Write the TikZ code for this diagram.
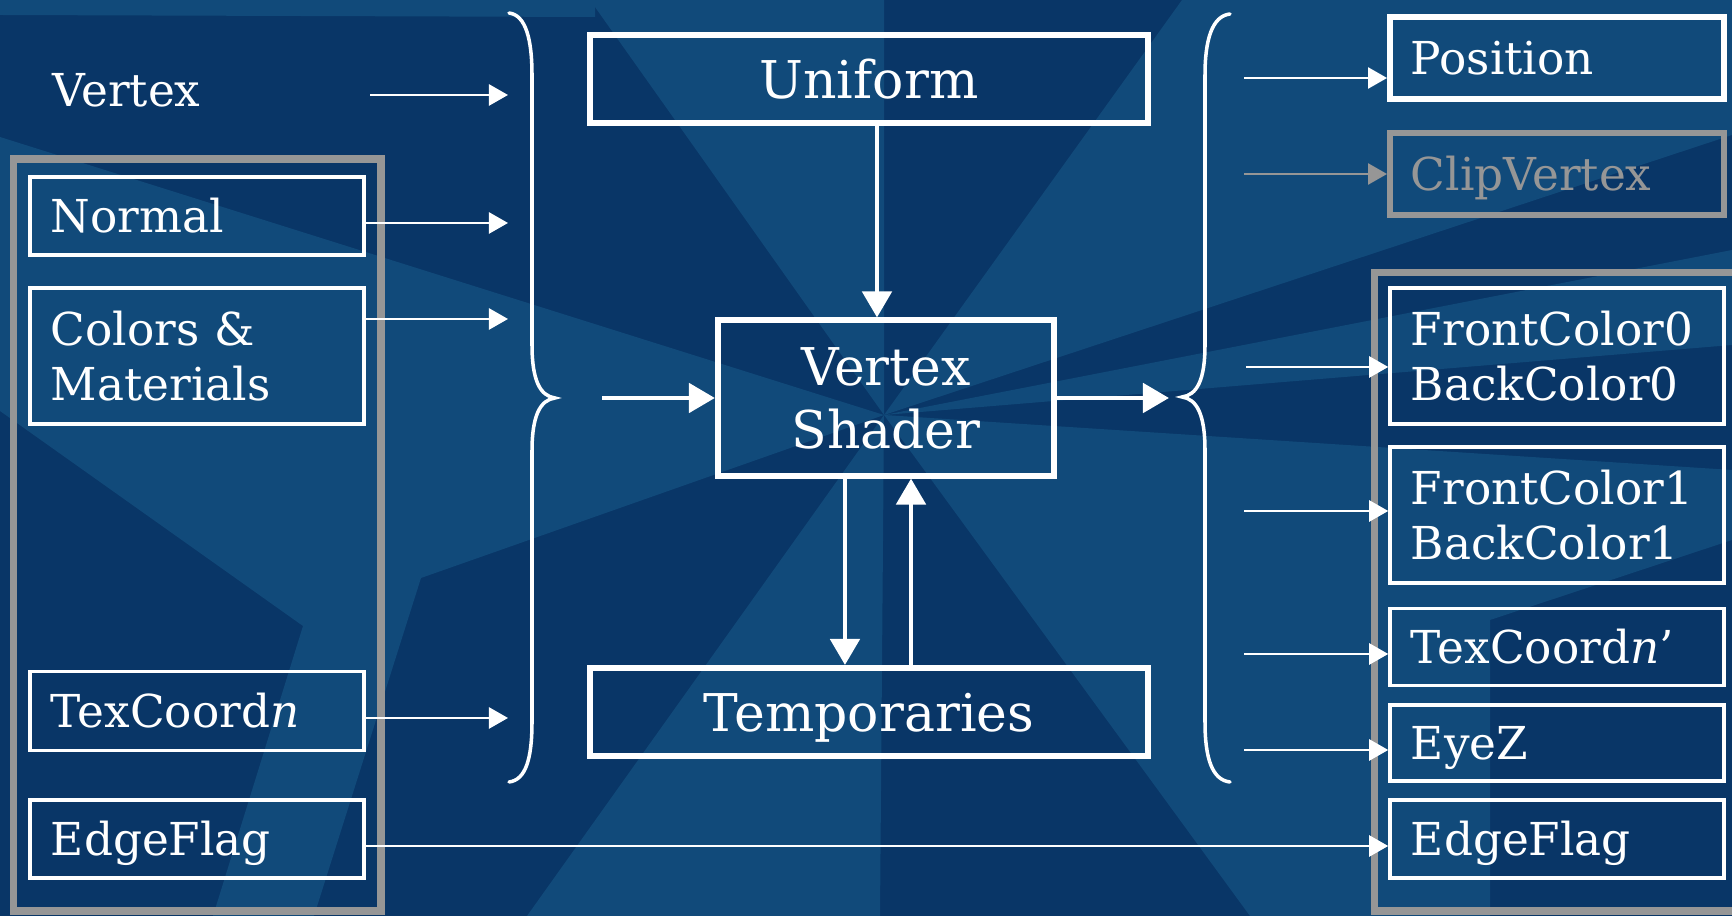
\documentclass[tikz,border=0pt]{standalone}
\usepackage{fontspec}
\setmainfont{DejaVu Serif}
\usetikzlibrary{arrows.meta,positioning}

\definecolor{bgdark}{RGB}{9,54,103}
\definecolor{bglight}{RGB}{17,74,122}
\definecolor{grpgray}{RGB}{150,150,150}

\tikzset{
  io/.style={draw=white, line width=0.95pt, text=white, text width=2.92cm,
    inner xsep=0.21cm, inner ysep=0pt, align=left,
    font=\fontsize{12.9}{15.8}\selectfont},
  oneline/.style={text height=0.33cm, text depth=0pt},
  core/.style={draw=white, line width=1.7pt, text=white, align=center,
    minimum width=5.58cm, minimum height=0.88cm, inner sep=0pt,
    font=\fontsize{14.8}{17.9}\selectfont},
  arr/.style={white, line width=0.7pt, -{Triangle[length=0.19cm,width=0.21cm]}},
  bigarr/.style={white, line width=1.4pt, -{Triangle[length=0.26cm,width=0.29cm]}},
  brace/.style={white, line width=1pt, line cap=round},
  group/.style={grpgray, line width=2pt}
}

\begin{document}
\begin{tikzpicture}[x=0.01cm, y=-0.01cm]
  \useasboundingbox (0,0) rectangle (1732,916);

  % background rays
  \fill[bgdark] (0,0) rectangle (1732,916);
  \fill[bglight] (0,0) -- (595,0) -- (595,17) -- (0,15) -- cycle;
  \fill[bglight] (590,0) -- (884,0) -- (884,415) -- cycle;
  \fill[bglight] (1182,0) -- (1732,0) -- (1732,135) -- (884,415) -- cycle;
  \fill[bglight] (0,137) -- (884,415) -- (421,578) -- (314,916) -- (213,916)
    -- (303,626) -- (0,411) -- cycle;
  \fill[bglight] (527,916) -- (884,415) -- (880,916) -- cycle;
  \fill[bglight] (884,415) -- (1732,250) -- (1732,345) -- cycle;
  \fill[bglight] (884,415) -- (1732,470) -- (1732,540) -- (1490,620)
    -- (1490,916) -- (1250,916) -- cycle;

  % groups
  \draw[group] (13.5,159) rectangle (381,911);
  \draw[group] (1374.5,272.5) rectangle (1745,911);

  % inputs
  \node[anchor=base west, inner sep=0pt, text=white, font=\fontsize{12.9}{15.8}\selectfont] (vertex) at (52,107) {Vertex};
  \node[io, oneline, minimum height=0.78cm] (normal) at (197,216) {Normal};
  \node[io, minimum height=1.36cm] (colors) at (197,356) {Colors \&\\Materials};
  \node[io, oneline, minimum height=0.79cm] (texin) at (197,711) {TexCoord\textit{n}};
  \node[io, oneline, minimum height=0.78cm] (edgein) at (197,839) {EdgeFlag};

  % shader and its storage
  \node[core, text height=0.38cm, text depth=0pt] (uniform) at (869,79) {Uniform};
  \node[core, minimum width=3.36cm, minimum height=1.55cm] (shader) at (886,398) {Vertex\\Shader};
  \node[core, text height=0.38cm, text depth=0pt] (temps) at (869,712) {Temporaries};

  % outputs
  \node[io, oneline, line width=1.6pt, minimum height=0.82cm] (position) at (1557,58) {Position};
  \node[io, oneline, line width=1.6pt, draw=grpgray, text=grpgray, minimum height=0.82cm] (clip) at (1557,174) {ClipVertex};
  \node[io, minimum height=1.36cm] (front0) at (1557,356) {FrontColor0\\BackColor0};
  \node[io, minimum height=1.36cm] (front1) at (1557,515) {FrontColor1\\BackColor1};
  \node[io, oneline, minimum height=0.77cm] (texout) at (1557,647) {TexCoord\textit{n}'};
  \node[io, oneline, minimum height=0.76cm] (eyez) at (1557,743) {EyeZ};
  \node[io, oneline, minimum height=0.78cm] (edgeout) at (1557,839) {EdgeFlag};

  % braces
  \draw[brace] (509,13) .. controls (526,15) and (532,40) .. (532,75) -- (532,345)
    .. controls (532,380) and (540,396) .. (555,398)
    .. controls (540,400) and (532,416) .. (532,451) -- (532,722)
    .. controls (532,758) and (526,780) .. (509,782);
  \draw[brace] (1230,14) .. controls (1212,16) and (1205,40) .. (1205,75) -- (1205,345)
    .. controls (1205,380) and (1197,395) .. (1182,397)
    .. controls (1197,399) and (1205,415) .. (1205,450) -- (1205,722)
    .. controls (1205,758) and (1212,780) .. (1230,782);

  % into the left brace
  \coordinate (b-vertex) at (508,95);
  \coordinate (b-normal) at (508,223);
  \coordinate (b-colors) at (508,319);
  \coordinate (b-tex) at (508,718);
  \coordinate (vstart) at (370,95);
  \draw[arr] (vstart) -- (b-vertex);
  \draw[arr] (normal.east |- b-normal) -- (b-normal);
  \draw[arr] (colors.east |- b-colors) -- (b-colors);
  \draw[arr] (texin.east |- b-tex) -- (b-tex);
  \draw[arr] ([yshift=-0.07cm]edgein.east) -- ([yshift=-0.07cm]edgeout.west);

  % through the shader
  \coordinate (core-in) at (602,398);
  \coordinate (core-out) at (1169,398);
  \draw[bigarr] (core-in) -- (shader.west);
  \draw[bigarr] (shader.east) -- (core-out);
  \draw[bigarr] ([xshift=0.08cm]uniform.south) -- ([xshift=0.08cm]uniform.south |- shader.north);
  \draw[bigarr] ([xshift=-0.41cm]shader.south) -- ([xshift=-0.41cm]shader.south |- temps.north);
  \draw[bigarr] ([xshift=0.25cm]shader.south |- temps.north) -- ([xshift=0.25cm]shader.south);

  % out of the right brace
  \coordinate (o-pos) at (1244,78);
  \coordinate (o-clip) at (1244,174);
  \coordinate (o-front0) at (1246,367);
  \coordinate (o-front1) at (1244,511);
  \coordinate (o-tex) at (1244,654);
  \coordinate (o-eyez) at (1244,750);
  \draw[arr] (o-pos) -- (o-pos -| position.west);
  \draw[arr, grpgray] (o-clip) -- (o-clip -| clip.west);
  \draw[arr] (o-front0) -- (o-front0 -| front0.west);
  \draw[arr] (o-front1) -- (o-front1 -| front1.west);
  \draw[arr] (o-tex) -- (o-tex -| texout.west);
  \draw[arr] (o-eyez) -- (o-eyez -| eyez.west);

\end{tikzpicture}
\end{document}
